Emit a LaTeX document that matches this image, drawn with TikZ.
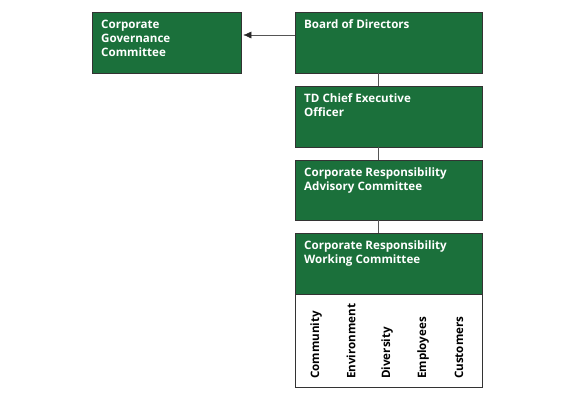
\documentclass[tikz,border=0pt]{standalone}
\usepackage{fontspec}
\setmainfont{Open Sans}
\usepackage{tikz}
\usetikzlibrary{arrows.meta}

\definecolor{tdgreen}{RGB}{27,112,59}
\definecolor{linegray}{RGB}{85,85,85}

\begin{document}
\begin{tikzpicture}[x=1pt,y=-1pt,font=\bfseries\fontsize{11.6}{14.3}\selectfont]
\tikzset{box/.style={draw=black!80,fill=tdgreen,rectangle,anchor=north west,minimum width=187pt,minimum height=61pt,inner sep=0pt},
  boxtext/.style={text=white,align=left,anchor=north west,inner xsep=9pt,inner ysep=7.5pt},
  topic/.style={rotate=90,anchor=west,inner sep=0pt}}
\useasboundingbox (0,0) rectangle (575,400);

\node (cgc) at (92,12) [box,minimum width=149pt,label={[boxtext]north west:Corporate\\Governance\\Committee}] {};
\node (board) at (295,12) [box,label={[boxtext]north west:Board of Directors}] {};
\node (ceo) at (295,86) [box,label={[boxtext]north west:TD Chief Executive\\Officer}] {};
\node (crac) at (295,160) [box,minimum height=60pt,label={[boxtext]north west:Corporate Responsibility\\Advisory Committee}] {};
\node (areas) at (295,294) [draw=black!80,fill=white,rectangle,anchor=north west,minimum width=187pt,minimum height=93pt,inner sep=0pt] {};
\node (crwc) at (295,233) [box,label={[boxtext]north west:Corporate Responsibility\\Working Committee}] {};

\node (community) at (316,379) [topic] {Community};
\node (environment) at (351,379) [topic] {Environment};
\node (diversity) at (387,379) [topic] {Diversity};
\node (employees) at (423,379) [topic] {Employees};
\node (customers) at (459,379) [topic] {Customers};

\draw[linegray,-{Latex[length=8pt,width=7pt,color=black!85]},shorten >=2pt] ([yshift=-23pt]board.north west) -- ([yshift=-23pt]cgc.north east);
\path[draw=linegray]
([xshift=-11pt]board.south) edge ([xshift=-11pt]ceo.north)
([xshift=-11pt]ceo.south) edge ([xshift=-11pt]crac.north)
([xshift=-11pt]crac.south) edge ([xshift=-11pt]crwc.north);
\end{tikzpicture}
\end{document}
